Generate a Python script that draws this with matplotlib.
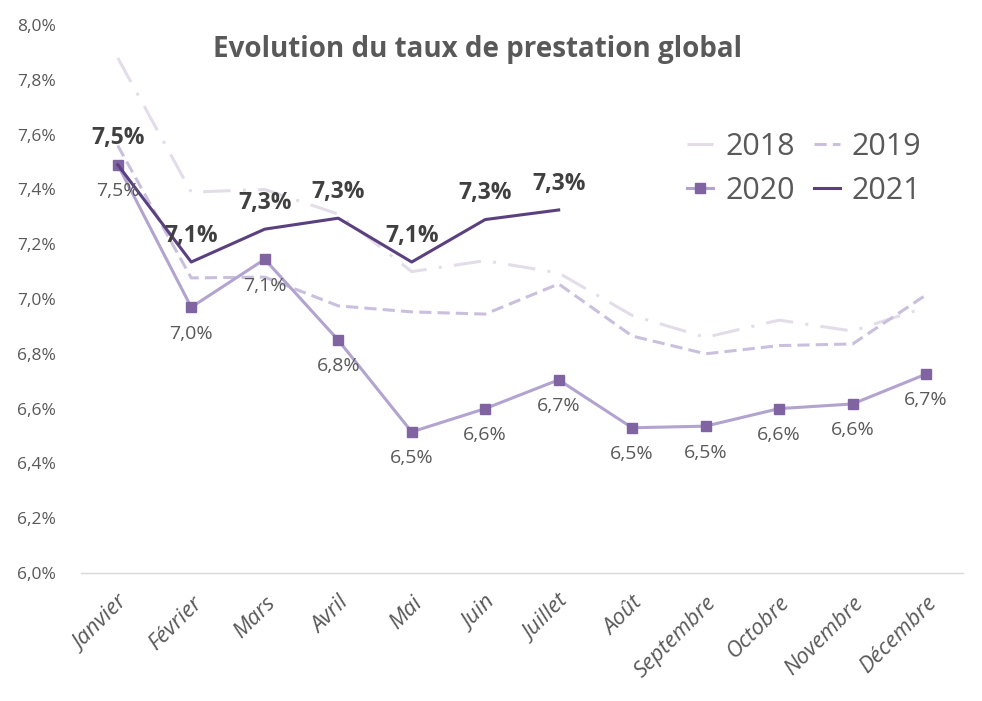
import matplotlib.pyplot as plt
import numpy as np

months = ["Janvier", "Février", "Mars", "Avril", "Mai", "Juin", "Juillet",
          "Août", "Septembre", "Octobre", "Novembre", "Décembre"]

y2018 = [7.88, 7.39, 7.40, 7.31, 7.10, 7.14, 7.095, 6.94, 6.86, 6.923, 6.883, 6.97]
y2019 = [7.56, 7.077, 7.08, 6.975, 6.953, 6.945, 7.055, 6.865, 6.80, 6.83, 6.836, 7.015]
y2020 = [7.49, 6.97, 7.145, 6.85, 6.515, 6.60, 6.705, 6.53, 6.536, 6.60, 6.617, 6.726]
y2021 = [7.49, 7.135, 7.255, 7.295, 7.135, 7.29, 7.325]

yticks = [6.0, 6.2, 6.4, 6.6, 6.8, 7.0, 7.2, 7.4, 7.6, 7.8, 8.0]

plt.rcParams["font.family"] = ["Open Sans", "DejaVu Sans"]

c2018 = "#E3DDEA"
c2019 = "#CAC0DD"
c2020 = "#B2A3CF"
c2020m = "#8064A2"
c2021 = "#5B4080"

fig = plt.figure(figsize=(9.82, 7.01), dpi=100)
ax = fig.add_axes([0.0825, 0.1826, 0.898, 0.7817])

x = np.arange(len(months))

l18, = ax.plot(x, y2018, color=c2018, lw=2.2, linestyle=(0, (9, 4, 1, 4)), label="2018")
l19, = ax.plot(x, y2019, color=c2019, lw=2.2, linestyle=(0, (4, 2)), label="2019")
l20, = ax.plot(x, y2020, color=c2020, lw=2.2, marker="s", markersize=7,
               markerfacecolor=c2020m, markeredgecolor=c2020m, label="2020")
l21, = ax.plot(x[:len(y2021)], y2021, color=c2021, lw=2.2, label="2021")

def fmt(v):
    return f"{v:.1f}%".replace(".", ",")

for i, v in enumerate(y2020):
    ax.annotate(fmt(v), (i, v), xytext=(0, -19), textcoords="offset points",
                ha="center", va="center", fontsize=14, color="#595959")

for i, v in enumerate(y2021):
    ax.annotate(fmt(v), (i, v), xytext=(0, 19), textcoords="offset points",
                ha="center", va="center", fontsize=16.5, fontweight="bold",
                color="#404040")

ax.set_xlim(-0.5, len(months) - 0.5)
ax.set_ylim(6.0, 8.0)
ax.set_yticks(yticks)
ax.set_yticklabels([fmt(t) for t in yticks], fontsize=12.5, color="#595959")
ax.set_xticks(x)
ax.set_xticklabels(months, rotation=45, ha="right", rotation_mode="anchor",
                   fontsize=16, style="italic", color="#595959")
ax.tick_params(axis="both", length=0)
ax.tick_params(axis="y", pad=18)
ax.tick_params(axis="x", pad=14)

for s in ["top", "right", "left"]:
    ax.spines[s].set_visible(False)
ax.spines["bottom"].set_color("#D9D9D9")
ax.spines["bottom"].set_linewidth(1)

fig.text(0.486, 0.929, "Evolution du taux de prestation global", ha="center",
         va="center", fontsize=20, fontweight="bold", color="#595959")

leg = fig.legend([l18, l20, l19, l21], ["2018", "2020", "2019", "2021"],
                 loc="upper left", bbox_to_anchor=(0.672, 0.851), ncol=2,
                 frameon=False, fontsize=22, handlelength=0.85,
                 handletextpad=0.4, columnspacing=0.6, labelspacing=0.45)
for t in leg.get_texts():
    t.set_color("#595959")

fig.savefig("out.png", dpi=100)
